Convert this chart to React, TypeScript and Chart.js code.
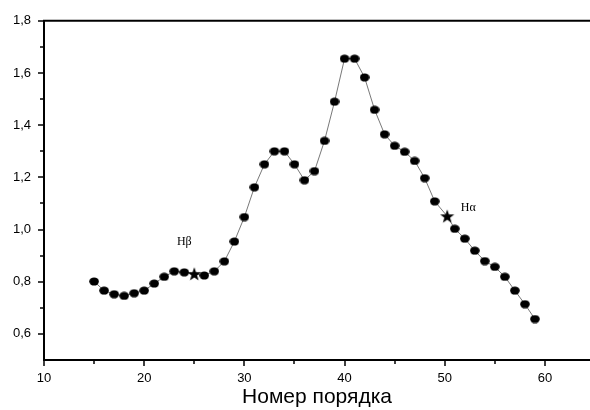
import { useEffect, useRef } from 'react';
import { Chart, registerables } from 'chart.js';

Chart.register(...registerables);

// Order numbers (x) and measured values (y); 25 and 50.25 are the Hβ and Hα positions.
const orderNumbers = [
  15, 16, 17, 18, 19, 20, 21, 22, 23, 24, 25, 26, 27, 28, 29, 30, 31, 32, 33, 34,
  35, 36, 37, 38, 39, 40, 41, 42, 43, 44, 45, 46, 47, 48, 49, 50.25, 51, 52, 53,
  54, 55, 56, 57, 58, 59,
];
const values = [
  0.801, 0.766, 0.752, 0.746, 0.756, 0.766, 0.793, 0.819, 0.84, 0.836, 0.83, 0.824,
  0.84, 0.878, 0.954, 1.048, 1.162, 1.25, 1.3, 1.3, 1.25, 1.189, 1.224, 1.34, 1.49,
  1.655, 1.655, 1.583, 1.459, 1.365, 1.321, 1.298, 1.263, 1.197, 1.108, 1.051, 1.003,
  0.965, 0.919, 0.879, 0.857, 0.819, 0.766, 0.714, 0.657,
];

// Spectral lines marked with a star
const lineNames = ['Hβ', 'Hα'];
const lineOrders = [25, 50.25];

const xTitle = 'Номер порядка';

function makeDot(): HTMLCanvasElement {
  const c = document.createElement('canvas');
  c.width = 10;
  c.height = 9;
  const g = c.getContext('2d')!;
  g.fillStyle = '#000';
  g.beginPath();
  g.ellipse(5, 4.5, 4.8, 4.1, 0, 0, Math.PI * 2);
  g.fill();
  return c;
}

function makeStar(): HTMLCanvasElement {
  const c = document.createElement('canvas');
  c.width = 16;
  c.height = 16;
  const g = c.getContext('2d')!;
  g.fillStyle = '#000';
  g.beginPath();
  const cx = 8, cy = 8.6, R = 7.4, r = 3.0;
  for (let i = 0; i < 10; i++) {
    const a = -Math.PI / 2 + (i * Math.PI) / 5;
    const rad = i % 2 === 0 ? R : r;
    const px = cx + rad * Math.cos(a);
    const py = cy + rad * Math.sin(a);
    if (i === 0) g.moveTo(px, py);
    else g.lineTo(px, py);
  }
  g.closePath();
  g.fill();
  return c;
}

const fmt = (v: number) => v.toFixed(1).replace('.', ',');

export default function App() {
  const ref = useRef<HTMLCanvasElement>(null);

  useEffect(() => {
    document.body.style.margin = '0';
    const dot = makeDot();
    const star = makeStar();
    const styles = orderNumbers.map((o) => (lineOrders.includes(o) ? star : dot));

    const framePlugin = {
      id: 'frame',
      afterDraw(chart: any) {
        const { ctx, chartArea: a, scales } = chart;
        const x = scales.x;
        const y = scales.y;
        ctx.save();
        ctx.strokeStyle = '#000';
        ctx.lineWidth = 2;
        ctx.beginPath();
        ctx.moveTo(a.left - 1, a.top);
        ctx.lineTo(a.right, a.top);
        ctx.stroke();

        ctx.lineWidth = 1.5;
        x.ticks.forEach((t: any) => {
          const px = Math.round(x.getPixelForValue(t.value));
          const len = Math.round(t.value) % 10 === 0 ? 6 : 4;
          ctx.beginPath();
          ctx.moveTo(px, a.bottom);
          ctx.lineTo(px, a.bottom + len);
          ctx.stroke();
        });
        y.ticks.forEach((t: any) => {
          if (Math.abs(t.value - y.min) < 1e-6) return;
          const py = Math.round(y.getPixelForValue(t.value));
          const len = Math.round(t.value * 10) % 2 === 0 ? 6 : 4;
          ctx.beginPath();
          ctx.moveTo(a.left, py);
          ctx.lineTo(a.left - len, py);
          ctx.stroke();
        });

        // Spectral line names next to their stars
        ctx.fillStyle = '#000';
        ctx.font = '12px "Liberation Serif", serif';
        ctx.textAlign = 'center';
        ctx.textBaseline = 'middle';
        lineNames.forEach((name, i) => {
          const idx = orderNumbers.indexOf(lineOrders[i]);
          const px = x.getPixelForValue(orderNumbers[idx]);
          const py = y.getPixelForValue(values[idx]);
          if (i === 0) ctx.fillText(name, px - 10, py - 32);
          else ctx.fillText(name, px + 21, py - 8);
        });
        ctx.restore();
      },
    };

    const chart = new Chart(ref.current!, {
      type: 'scatter',
      data: {
        datasets: [
          {
            data: orderNumbers.map((o, i) => ({ x: o, y: values[i] })),
            showLine: true,
            borderColor: '#555',
            borderWidth: 0.8,
            pointStyle: styles as any,
            pointRadius: 5,
            pointHoverRadius: 5,
          },
        ],
      },
      options: {
        animation: false,
        responsive: true,
        maintainAspectRatio: false,
        layout: { autoPadding: false, padding: { top: 18, right: 0, left: 0, bottom: 0 } },
        plugins: { legend: { display: false }, tooltip: { enabled: false } },
        scales: {
          x: {
            type: 'linear',
            min: 10,
            max: 64.5,
            grid: { display: false, drawTicks: false },
            border: { display: true, color: '#000', width: 2 },
            ticks: {
              stepSize: 5,
              includeBounds: false,
              autoSkip: false,
              maxRotation: 0,
              padding: 11,
              color: '#000',
              font: { family: '"Liberation Sans", Arial, sans-serif', size: 13 },
              callback: (v: any) => (Math.round(v) % 10 === 0 ? String(v) : ''),
            },
            title: {
              display: true,
              text: xTitle,
              color: '#000',
              font: { family: '"Liberation Sans", Arial, sans-serif', size: 21 },
              padding: { top: 0, bottom: 0 },
            },
            afterFit: (s: any) => {
              s.height = 50;
            },
          },
          y: {
            type: 'linear',
            min: 0.5,
            max: 1.8,
            grid: { display: false, drawTicks: false },
            border: { display: true, color: '#000', width: 2 },
            ticks: {
              stepSize: 0.1,
              includeBounds: false,
              autoSkip: false,
              padding: 13,
              color: '#000',
              font: { family: '"Liberation Sans", Arial, sans-serif', size: 13 },
              callback: (v: any) => {
                const n = Math.round(v * 10);
                return n % 2 === 0 && n !== 5 ? fmt(n / 10) : '';
              },
            },
            afterFit: (s: any) => {
              s.width = 44;
            },
          },
        },
      },
      plugins: [framePlugin],
    });
    return () => chart.destroy();
  }, []);

  return (
    <div style={{ position: 'relative', width: 590, height: 410 }}>
      <canvas ref={ref} />
    </div>
  );
}
